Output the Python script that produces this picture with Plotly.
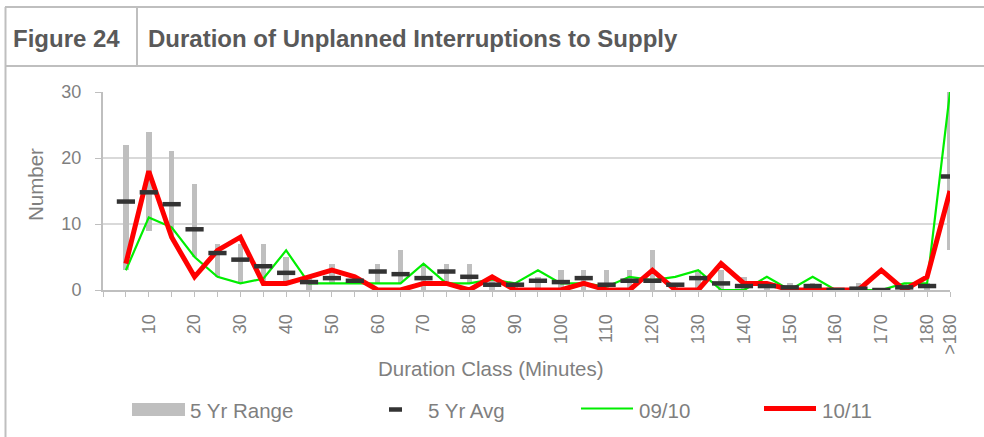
import plotly.graph_objects as go

# ---------------- data ----------------
class_minutes = [5, 10, 15, 20, 25, 30, 35, 40, 45, 50, 55, 60, 65, 70, 75, 80, 85, 90, 95,
                 100, 105, 110, 115, 120, 125, 130, 135, 140, 145, 150, 155, 160, 165, 170,
                 175, 180, 185]

range_low = [3, 9, 8, 5, 2, 1, 1, 1, 0, 1, 1, 1, 1, 0, 1, 1, 0, 0, 0,
             0, 0, 0, 0, 0, 0, 0, 0, 0, 0, 0, 0, 0, 0, 0,
             0, 0, 6]
range_high = [22, 24, 21, 16, 7, 7, 7, 5, 2, 4, 2, 4, 6, 4, 4, 4, 2, 1, 2,
              3, 3, 3, 3, 6, 1, 3, 3, 2, 1, 1, 1, 0, 1, 0,
              1, 1, 30]
avg_5yr = [13.4, 14.8, 13.0, 9.2, 5.6, 4.6, 3.6, 2.6, 1.2, 1.8, 1.4, 2.8, 2.4, 1.8, 2.8, 2.0, 0.8, 0.8, 1.4,
           1.2, 1.8, 0.8, 1.4, 1.4, 0.8, 1.8, 1.0, 0.6, 0.6, 0.4, 0.6, 0.0, 0.2, 0.0,
           0.4, 0.6, 17.2]
s_0910 = [3, 11, 9.5, 5, 2, 1, 1.7, 6, 1, 1, 1, 1, 1, 4, 1, 1, 1.6, 1, 3,
          1, 1, 0.5, 2, 1.5, 2, 3, 0, 0, 2, 0, 2, 0, 0, 0,
          1, 1, 30]
s_1011 = [4, 18, 8, 2, 6, 8, 1, 1, 2, 3, 2, 0, 0, 1, 1, 0, 2, 0, 0,
          0, 1, 0, 0, 3, 0, 0, 4, 1, 1, 0, 0, 0, 0, 3,
          0, 2, 15]

tick_vals = [10, 20, 30, 40, 50, 60, 70, 80, 90, 100, 110, 120, 130, 140, 150, 160, 170, 180, 185]
tick_text = ["10", "20", "30", "40", "50", "60", "70", "80", "90", "100", "110", "120", "130",
             "140", "150", "160", "170", "180", ">180"]
y_ticks = [0, 10, 20, 30]

range_span = [h - l for h, l in zip(range_high, range_low)]

# ---------------- layout helpers ----------------
W, H = 984, 437
L, R, T, B = 103, 34, 92, 147
PW, PH = W - L - R, H - T - B
FONT = "Liberation Sans, Arial, sans-serif"
TXT = "#7f7f7f"
HDR = "#595959"
FRAME = "#bfbfbf"


def px(x):
    return (x - L) / PW


def py(y):
    return (H - B - y) / PH


fig = go.Figure()

fig.add_trace(go.Bar(x=class_minutes, y=range_span, base=range_low, width=1.2,
                     marker=dict(color="#bfbfbf", line=dict(width=0)),
                     name="5 Yr Range", showlegend=False))
fig.add_trace(go.Scatter(x=class_minutes, y=s_0910, mode="lines",
                         line=dict(color="#00ee00", width=2.2),
                         name="09/10", showlegend=False))
fig.add_trace(go.Scatter(x=class_minutes, y=s_1011, mode="lines",
                         line=dict(color="#ff0000", width=5),
                         name="10/11", showlegend=False))
fig.add_trace(go.Scatter(x=class_minutes, y=avg_5yr, mode="markers",
                         marker=dict(symbol="line-ew", size=13, color="#333333",
                                     line=dict(width=4.5, color="#333333")),
                         name="5 Yr Avg", showlegend=False))

shapes = []


def hline(x0, x1, y, color=FRAME, w=2):
    shapes.append(dict(type="line", xref="paper", yref="paper", x0=px(x0), x1=px(x1),
                       y0=py(y), y1=py(y), line=dict(color=color, width=w)))


def vline(x, y0, y1, color=FRAME, w=2):
    shapes.append(dict(type="line", xref="paper", yref="paper", x0=px(x), x1=px(x),
                       y0=py(y0), y1=py(y1), line=dict(color=color, width=w)))


# header frame
hline(5, 984, 7)
hline(5, 984, 66)
vline(5.5, 7, 437)
vline(137, 7, 66)

# custom legend
shapes.append(dict(type="rect", xref="paper", yref="paper", x0=px(132), x1=px(185),
                   y0=py(403), y1=py(416), fillcolor="#bfbfbf", line=dict(width=0)))
hline(389, 402, 409.5, color="#333333", w=4.5)
hline(581, 633, 408.5, color="#00ee00", w=2.2)
hline(764, 816, 408.5, color="#ff0000", w=5)

annotations = []


def label(x, y, text, size=21, color=TXT, xanchor="left", bold=False, angle=0):
    annotations.append(dict(xref="paper", yref="paper", x=px(x), y=py(y), text=text,
                            showarrow=False, xanchor=xanchor, yanchor="middle",
                            textangle=angle,
                            font=dict(family=FONT, size=size, color=color,
                                      weight="bold" if bold else "normal")))


label(11, 38, "Figure 24", size=24, color=HDR, bold=True)
label(146, 38, "Duration of Unplanned Interruptions to Supply", size=24, color=HDR, bold=True)
label(35, 185, "Number", size=20.5, xanchor="center", angle=-90)
label(491, 368, "Duration Class (Minutes)", size=20.5, xanchor="center")
label(188, 410, "5 Yr Range", size=20.5)
label(426, 410, "5 Yr Avg", size=20.5)
label(637, 410, "09/10", size=20.5)
label(820, 410, "10/11", size=20.5)

fig.update_layout(
    width=W, height=H,
    margin=dict(l=L, r=R, t=T, b=B, pad=0),
    paper_bgcolor="white", plot_bgcolor="white",
    font=dict(family=FONT, color=TXT),
    showlegend=False,
    bargap=0,
    shapes=shapes,
    annotations=annotations,
    xaxis=dict(range=[0, 185], tickmode="array", tickvals=tick_vals, ticktext=tick_text,
               tickangle=-90, ticks="outside", ticklen=5, tickwidth=1, tickcolor=FRAME,
               showline=True, linecolor=FRAME, linewidth=2, showgrid=False, zeroline=False,
               tickfont=dict(family=FONT, size=18, color=TXT), ticklabelstandoff=10,
               minor=dict(tickmode="linear", tick0=0, dtick=5, ticks="outside", ticklen=5,
                          tickwidth=1, tickcolor=FRAME, showgrid=False)),
    yaxis=dict(range=[0, 30], tickmode="array", tickvals=y_ticks, ticks="outside", ticklen=6,
               tickwidth=1, tickcolor=FRAME, showline=True, linecolor=FRAME, linewidth=2,
               showgrid=True, gridcolor="#d9d9d9", gridwidth=2, zeroline=False,
               tickfont=dict(family=FONT, size=18, color=TXT), ticklabelstandoff=10),
)

fig.write_html("out.html", config={"displayModeBar": False},
               post_script="document.body.style.margin='0';document.body.style.overflow='hidden';")
